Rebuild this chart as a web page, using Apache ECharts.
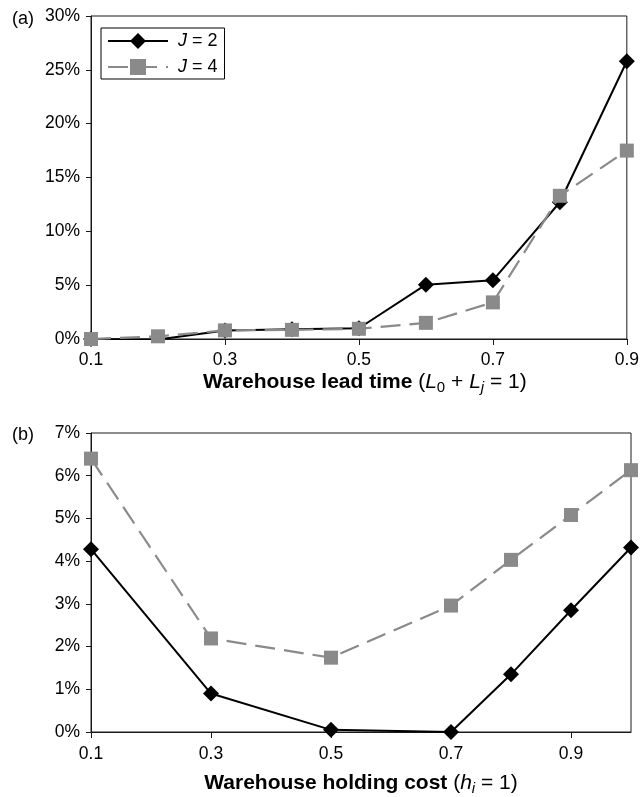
<!DOCTYPE html>
<html><head><meta charset="utf-8">
<script src="https://cdn.jsdelivr.net/npm/echarts@6/dist/echarts.min.js"></script>
<style>html,body{margin:0;padding:0;background:#fff}#c{width:642px;height:797px}</style>
</head><body><div id="c"></div>
<script>
// Panel (a): warehouse lead time
var catsA = ['0.1','0.2','0.3','0.4','0.5','0.6','0.7','0.8','0.9'];
var j2A = [0.0, -0.05, 0.8, 0.9, 1.0, 5.05, 5.45, 12.7, 25.8];
var j4A = [0.0, 0.25, 0.8, 0.85, 0.95, 1.5, 3.4, 13.3, 17.5];
var yTicksA = {min: 0, max: 30, interval: 5};
// Panel (b): warehouse holding cost
var catsB = ['0.1','0.2','0.3','0.4','0.5','0.6','0.7','0.8','0.9','1.0'];
var xB = ['0.1','0.3','0.5','0.7','0.8','0.9','1.0'];
var j2B = [4.28, 0.9, 0.05, 0.0, 1.35, 2.85, 4.32];
var j4B = [6.4, 2.19, 1.74, 2.96, 4.03, 5.08, 6.13];
var yTicksB = {min: 0, max: 7, interval: 1};

var FONT = 'Liberation Sans';
var axisColor = '#1a1a1a';
var grey = '#8a8a8a';

function pairs(xs, ys){ return xs.map(function(x,i){ return [x, ys[i]]; }); }

var richName = {
  b: {fontFamily: FONT, fontSize: 21, fontWeight: 'bold', color: '#000', lineHeight: 26},
  n: {fontFamily: FONT, fontSize: 21, color: '#000', lineHeight: 26},
  i: {fontFamily: FONT, fontSize: 21, fontStyle: 'italic', color: '#000', lineHeight: 26},
  sub: {fontFamily: FONT, fontSize: 15, color: '#000', lineHeight: 17, verticalAlign: 'bottom'},
  isub: {fontFamily: FONT, fontSize: 15, fontStyle: 'italic', color: '#000', lineHeight: 17, verticalAlign: 'bottom'}
};

function xAxis(idx, cats, name, gap, margin, padLeft){
  return {
    type: 'category', gridIndex: idx, data: cats, boundaryGap: false,
    axisLine: {lineStyle: {color: axisColor, width: 1}},
    axisTick: {show: true, interval: 1, length: 6, inside: false, lineStyle: {color: axisColor}},
    axisLabel: {interval: 1, fontFamily: FONT, fontSize: 17.5, color: '#000', margin: margin},
    splitLine: {show: false},
    name: name, nameLocation: 'middle', nameGap: gap,
    nameTextStyle: {rich: richName, padding: [0, 0, 0, padLeft]}
  };
}
function yAxis(idx, t){
  return {
    type: 'value', gridIndex: idx, min: t.min, max: t.max, interval: t.interval,
    axisLine: {show: true, lineStyle: {color: axisColor, width: 1}},
    axisTick: {show: true, length: 5, lineStyle: {color: axisColor}},
    axisLabel: {formatter: '{value}%', fontFamily: FONT, fontSize: 17.5, color: '#000', margin: 11},
    splitLine: {show: false}
  };
}

var s2 = {
  type: 'line', symbol: 'diamond', symbolSize: 16,
  itemStyle: {color: '#000'},
  lineStyle: {color: '#000', width: 2},
  z: 2
};
var s4 = {
  type: 'line', symbol: 'rect', symbolSize: 14,
  itemStyle: {color: grey},
  lineStyle: {color: grey, width: 2.2, type: [20, 9]},
  z: 3
};
function mk(base, o){ return Object.assign({}, base, o); }

var chart = echarts.init(document.getElementById('c'), null, {renderer: 'canvas'});
chart.setOption({
  animation: false,
  backgroundColor: '#fff',
  textStyle: {fontFamily: FONT},
  grid: [
    {left: 91, right: 11, top: 16, height: 323, show: true, borderColor: axisColor, borderWidth: 1, backgroundColor: 'transparent'},
    {left: 91, right: 11, top: 433, height: 302, show: true, borderColor: axisColor, borderWidth: 1, backgroundColor: 'transparent'}
  ],
  xAxis: [
    xAxis(0, catsA, '{b|Warehouse lead time}{n| (}{i|L}{sub|0}{n| + }{i|L}{isub|j}{n| = 1)}', 30, 12, 12),
    xAxis(1, catsB, '{b|Warehouse holding cost}{n| (}{i|h}{isub|i}{n| = 1)}', 38, 13, 0)
  ],
  yAxis: [yAxis(0, yTicksA), yAxis(1, yTicksB)],
  legend: {
    show: true, left: 101, top: 28, orient: 'vertical',
    data: ['J = 2', 'J = 4'],
    borderColor: '#000', borderWidth: 1, backgroundColor: '#fff',
    padding: [4, 7, 3, 6], itemGap: 8, itemWidth: 60, itemHeight: 20,
    formatter: function(n){ return '{i|J}{t|' + n.slice(1) + '}'; },
    textStyle: {fontFamily: FONT, fontSize: 18, color: '#000', padding: [0, 0, 0, 5],
      rich: {i: {fontFamily: FONT, fontSize: 18, fontStyle: 'italic', color: '#000'},
             t: {fontFamily: FONT, fontSize: 18, color: '#000'}}}
  },
  graphic: [
    {type: 'text', left: 12, top: 10, style: {text: '(a)', font: '18px "Liberation Sans"', fill: '#000'}},
    {type: 'text', left: 12, top: 426, style: {text: '(b)', font: '18px "Liberation Sans"', fill: '#000'}}
  ],
  series: [
    mk(s2, {name: 'J = 2', xAxisIndex: 0, yAxisIndex: 0, data: j2A}),
    mk(s4, {name: 'J = 4', xAxisIndex: 0, yAxisIndex: 0, data: j4A}),
    mk(s2, {name: 'J = 2', xAxisIndex: 1, yAxisIndex: 1, data: pairs(xB, j2B)}),
    mk(s4, {name: 'J = 4', xAxisIndex: 1, yAxisIndex: 1, data: pairs(xB, j4B)})
  ]
});
</script></body></html>
